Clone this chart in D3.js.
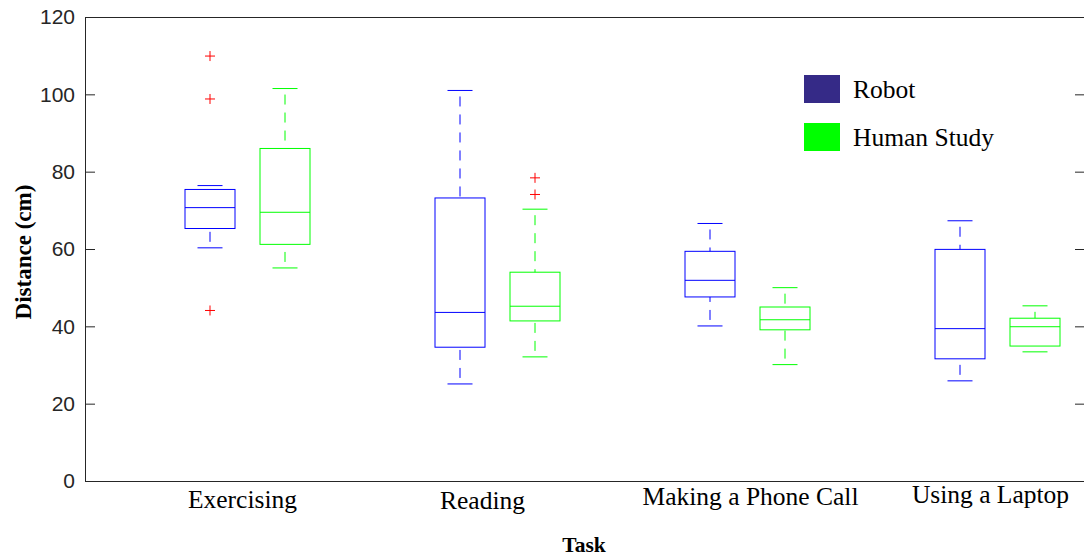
<!DOCTYPE html>
<html>
<head>
<meta charset="utf-8">
<script src="https://cdn.jsdelivr.net/npm/d3@7"></script>
<style>
  html, body { margin: 0; padding: 0; background: #fff; }
  svg { display: block; }
</style>
</head>
<body>
<svg id="chart" width="1084" height="558"></svg>
<script>
// Tasks on the x axis
const tasks = ["Exercising", "Reading", "Making a Phone Call", "Using a Laptop"];
const seriesNames = ["Robot", "Human Study"];

// Box statistics per task: [lower whisker, Q1, median, Q3, upper whisker]
const robotStats = [
  [60.3, 65.3, 70.7, 75.4, 76.4],
  [25.1, 34.6, 43.6, 73.2, 101.0],
  [40.1, 47.6, 51.9, 59.4, 66.6],
  [25.9, 31.6, 39.4, 59.9, 67.3]
];
const humanStats = [
  [55.1, 61.2, 69.5, 86.0, 101.5],
  [32.1, 41.4, 45.2, 54.0, 70.3],
  [30.1, 39.1, 41.7, 45.0, 50.0],
  [33.4, 34.9, 39.9, 42.1, 45.3]
];

// Outliers per task
const robotOutliers = [[109.9, 98.8, 44.1], [], [], []];
const humanOutliers = [[], [78.4, 74.1], [], []];

const yTicks = [0, 20, 40, 60, 80, 100, 120];

// ---- layout ----
const W = 1084, H = 558;
const margin = { left: 85, top: 17, right: -1, bottom: 77 };
const plotL = margin.left, plotR = W - margin.right, plotT = margin.top, plotB = H - margin.bottom;

// small per-label nudges for the category captions
const labelDx = [-5, -15, 3, -7];
const labelDy = [0, 1, -3, -5];

const axisColor = "#262626";
const robotColor = "#0000ff";
const humanColor = "#00ff00";
const robotPatch = "#352a87";

const svg = d3.select("#chart");

const x = d3.scaleBand().domain(tasks).range([plotL, plotR]).paddingInner(0).paddingOuter(0);
const y = d3.scaleLinear().domain([0, 120]).range([plotB, plotT]);

const boxW = 50;
const offsets = [125, 200]; // box centres within each band

// ---- axes ----
const left = svg.append("g").attr("transform", `translate(${plotL},0)`)
  .call(d3.axisLeft(y).tickValues(yTicks).tickSizeInner(-10).tickSizeOuter(0).tickPadding(10));
left.select(".domain").attr("stroke", axisColor);
left.selectAll(".tick line").attr("stroke", axisColor);
left.selectAll(".tick text")
  .attr("fill", axisColor)
  .attr("font-family", "'Liberation Sans', Arial, sans-serif")
  .attr("font-size", 21);

const right = svg.append("g").attr("transform", `translate(${plotR},0)`)
  .call(d3.axisRight(y).tickValues(yTicks).tickSizeInner(-10).tickSizeOuter(0).tickFormat(""));
right.select(".domain").attr("stroke", axisColor);
right.selectAll(".tick line").attr("stroke", axisColor);

// top and bottom frame lines
svg.append("line").attr("x1", plotL).attr("x2", plotR).attr("y1", y(120)).attr("y2", y(120))
  .attr("stroke", axisColor).attr("shape-rendering", "crispEdges");
svg.append("line").attr("x1", plotL).attr("x2", plotR).attr("y1", y(0)).attr("y2", y(0))
  .attr("stroke", axisColor).attr("shape-rendering", "crispEdges");

// ---- boxes ----
function drawSeries(stats, outliers, color, si) {
  const g = svg.append("g");
  stats.forEach((s, i) => {
    const cx = x(tasks[i]) + offsets[si];
    const [lo, q1, med, q3, hi] = s;
    const capW = boxW / 2;
    // whiskers (dashed), drawn from the caps toward the box
    g.append("line").attr("x1", cx).attr("x2", cx).attr("y1", y(hi)).attr("y2", y(q3))
      .attr("stroke", color).attr("stroke-dasharray", "10,8").attr("stroke-dashoffset", -6);
    g.append("line").attr("x1", cx).attr("x2", cx).attr("y1", y(lo)).attr("y2", y(q1))
      .attr("stroke", color).attr("stroke-dasharray", "10,8").attr("stroke-dashoffset", -6);
    // caps
    [lo, hi].forEach(v => {
      g.append("line").attr("x1", cx - capW / 2).attr("x2", cx + capW / 2)
        .attr("y1", y(v)).attr("y2", y(v)).attr("stroke", color);
    });
    // box
    g.append("rect").attr("x", cx - boxW / 2).attr("y", y(q3))
      .attr("width", boxW).attr("height", y(q1) - y(q3))
      .attr("fill", "none").attr("stroke", color);
    // median
    g.append("line").attr("x1", cx - boxW / 2).attr("x2", cx + boxW / 2)
      .attr("y1", y(med)).attr("y2", y(med)).attr("stroke", color);
    // outliers
    outliers[i].forEach(v => {
      const py = y(v);
      g.append("path").attr("d", `M${cx - 5},${py}H${cx + 5}M${cx},${py - 5}V${py + 5}`)
        .attr("stroke", "#ff0000").attr("fill", "none");
    });
  });
}
drawSeries(robotStats, robotOutliers, robotColor, 0);
drawSeries(humanStats, humanOutliers, humanColor, 1);

// ---- category captions ----
const serif = "'Liberation Serif', 'Times New Roman', serif";
svg.append("g").selectAll("text").data(tasks).join("text")
  .attr("x", (d, i) => x(d) + (offsets[0] + offsets[1]) / 2 + labelDx[i])
  .attr("y", (d, i) => 508 + labelDy[i])
  .attr("text-anchor", "middle")
  .attr("font-family", serif).attr("font-size", 25.5).attr("fill", "#000")
  .text(d => d);

// axis titles
svg.append("text").attr("x", 584).attr("y", 552).attr("text-anchor", "middle")
  .attr("font-family", serif).attr("font-weight", "bold").attr("font-size", 21.5)
  .text("Task");
svg.append("text").attr("transform", `translate(31,${252}) rotate(-90)`)
  .attr("text-anchor", "middle")
  .attr("font-family", serif).attr("font-weight", "bold").attr("font-size", 23)
  .text("Distance (cm)");

// ---- legend ----
const legend = svg.append("g").attr("transform", "translate(804,75)");
const patchColors = [robotPatch, humanColor];
seriesNames.forEach((name, i) => {
  const row = legend.append("g").attr("transform", `translate(0,${i * 48})`);
  row.append("rect").attr("width", 36).attr("height", 28).attr("fill", patchColors[i]);
  row.append("text").attr("x", 49).attr("y", 22.5)
    .attr("font-family", serif).attr("font-size", 25.5).attr("fill", "#000")
    .text(name);
});
</script>
</body>
</html>
